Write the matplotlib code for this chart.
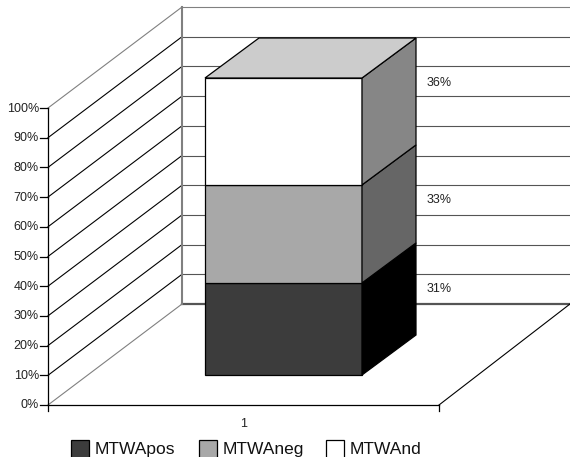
import matplotlib
matplotlib.use('Agg')
from matplotlib import pyplot as plt
from matplotlib.patches import Polygon, Rectangle

plt.rcParams['font.family'] = ['Liberation Sans', 'DejaVu Sans']

## Data
series = ['MTWApos', 'MTWAneg', 'MTWAnd']
values = [31, 33, 36]
tick_labels = ['0%', '10%', '20%', '30%', '40%', '50%', '60%', '70%', '80%', '90%', '100%']
category = '1'

## Colours of each box
front_cols = ['#3c3c3c', '#a8a8a8', '#ffffff']
side_cols = ['#000000', '#666666', '#868686']
top_col = '#cccccc'

## Layout of the fake 3d chart, in pixels of the picture
x0, x1 = 48, 439
y0 = 405
per_pct = 2.97
dx, dy = 134, 101
bar_l, bar_r = 205, 362
bar_dy = 30
bar_dx, bar_dy2 = 54, 40
label_y = [289, 200, 83]

def y_of(pct):
    return y0 - per_pct * pct

fig = plt.figure(figsize=(5.7, 4.57), dpi=100)
ax = fig.add_axes([0, 0, 1, 1])
ax.set_xlim(0, 570)
ax.set_ylim(457, 0)
ax.axis('off')

## Gridlines on the walls
for i in range(len(tick_labels)):
    pct = i * 10
    col = '#808080' if i in (0, 10) else '#000000'
    ax.plot([x0, x0 + dx], [y_of(pct), y_of(pct) - dy], color=col, lw=0.8, zorder=1)
    col = '#808080' if i == 10 else '#555555'
    lw = 1.6 if i == 0 else 0.8
    ax.plot([x0 + dx, 570], [y_of(pct) - dy, y_of(pct) - dy], color=col, lw=lw, zorder=1)
    ax.plot([x0 - 8, x0], [y_of(pct), y_of(pct)], color='black', lw=0.9, zorder=3)
    ax.text(x0 - 9, y_of(pct) + 0.5, tick_labels[i], ha='right', va='center', fontsize=9, color='#222222')

## Back wall edge, axis lines and floor
ax.plot([x0 + dx, x0 + dx], [y_of(0) - dy, y_of(100) - dy], color='#808080', lw=1.5, zorder=1)
ax.plot([x0, x0], [y_of(0) + 6, y_of(100)], color='black', lw=0.9, zorder=3)
ax.plot([x0, x1], [y0, y0], color='black', lw=0.9, zorder=3)
ax.plot([x1, x1], [y0, y0 + 6], color='black', lw=0.9, zorder=3)
ax.plot([x1, 570], [y0, y0 - dy], color='black', lw=0.8, zorder=1)
ax.text((x0 + x1) / 2, y0 + 19, category, ha='center', va='center', fontsize=9, color='#222222')

## Stacked box
bottom = 0
for val, fc, sc in zip(values, front_cols, side_cols):
    ya = y_of(bottom) - bar_dy
    yb = y_of(bottom + val) - bar_dy
    ax.add_patch(Rectangle((bar_l, yb), bar_r - bar_l, ya - yb, facecolor=fc, edgecolor='black', lw=0.9, zorder=4))
    ax.add_patch(Polygon([(bar_r, ya), (bar_r + bar_dx, ya - bar_dy2), (bar_r + bar_dx, yb - bar_dy2), (bar_r, yb)],
                         facecolor=sc, edgecolor='black', lw=0.9, zorder=4))
    bottom += val
ytop = y_of(bottom) - bar_dy
ax.add_patch(Polygon([(bar_l, ytop), (bar_l + bar_dx, ytop - bar_dy2), (bar_r + bar_dx, ytop - bar_dy2), (bar_r, ytop)],
                     facecolor=top_col, edgecolor='black', lw=0.9, zorder=4))

## Value labels next to the box
for val, ly in zip(values, label_y):
    ax.text(427, ly, str(val) + '%', ha='left', va='center', fontsize=9, color='#222222', zorder=5)

## Legend
for name, fc, lx in zip(series, front_cols, [71, 199, 326]):
    ax.add_patch(Rectangle((lx, 439.5), 18, 18, facecolor=fc, edgecolor='black', lw=0.9, clip_on=True))
    ax.text(lx + 24, 449.5, name, ha='left', va='center', fontsize=12.5, color='#111111')

fig.savefig('out.png', dpi=100)
